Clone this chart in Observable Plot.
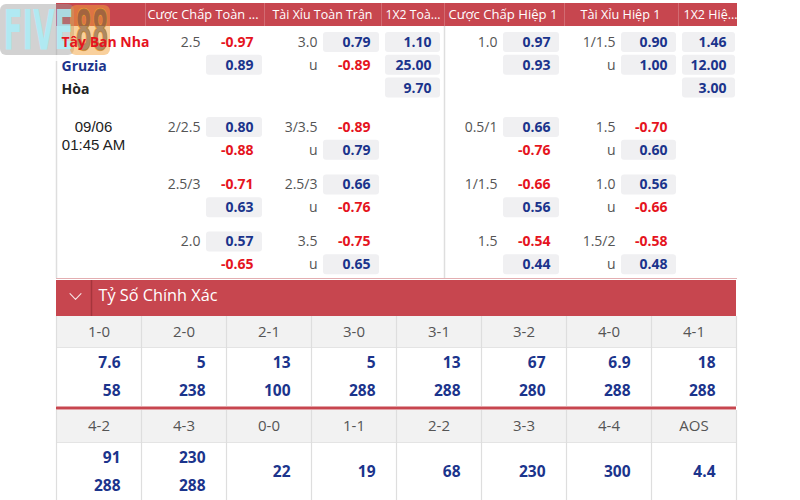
<!DOCTYPE html>
<html><head><meta charset="utf-8">
<script src="https://cdn.jsdelivr.net/npm/d3@7"></script>
<script src="https://cdn.jsdelivr.net/npm/@observablehq/plot@0.6"></script>
<style>body{margin:0;background:#fff;overflow:hidden}</style>
</head><body><div id="chart"></div>
<script>
// ---------- DATA ----------
const logoWord = "FIVE", logoNum = "88";
const headers = ["Cược Chấp Toàn ...", "Tài Xỉu Toàn Trận", "1X2 Toà...", "Cược Chấp Hiệp 1", "Tài Xỉu Hiệp 1", "1X2 Hiệ..."];
const teams = ["Tây Ban Nha", "Gruzia", "Hòa"];
const kickoff = ["09/06", "01:45 AM"];
const underLabel = "u";
const ftHdpLine = ["2.5", "2/2.5", "2.5/3", "2.0"];
const ftHdpHome = [-0.97, 0.80, -0.71, 0.57];
const ftHdpAway = [0.89, -0.88, 0.63, -0.65];
const ftOuLine = ["3.0", "3/3.5", "2.5/3", "3.5"];
const ftOver = [0.79, -0.89, 0.66, -0.75];
const ftUnder = [-0.89, 0.79, -0.76, 0.65];
const ft1x2 = [1.10, 25.00, 9.70];
const htHdpLine = ["1.0", "0.5/1", "1/1.5", "1.5"];
const htHdpHome = [0.97, 0.66, -0.66, -0.54];
const htHdpAway = [0.93, -0.76, 0.56, 0.44];
const htOuLine = ["1/1.5", "1.5", "1.0", "1.5/2"];
const htOver = [0.90, -0.70, 0.56, -0.58];
const htUnder = [1.00, 0.60, -0.66, 0.48];
const ht1x2 = [1.46, 12.00, 3.00];
const sectionTitle = "Tỷ Số Chính Xác";
const scoreLabels = ["1-0","2-0","2-1","3-0","3-1","3-2","4-0","4-1","4-2","4-3","0-0","1-1","2-2","3-3","4-4","AOS"];
const scoreOddsTop = [7.6, 5, 13, 5, 13, 67, 6.9, 18, 91, 230, 22, 19, 68, 230, 300, 4.4];
const scoreOddsBottom = [58, 238, 100, 288, 288, 280, 288, 288, 288, 288, null, null, null, null, null, null];

// ---------- LAYOUT & STYLE ----------
const C = {red: "#c7464f", redDark: "#a5353c", navy: "#1b348c", neg: "#e5141e", grey: "#555", line: "#dedede", boxBg: "#f0f0f2", headBg: "#f2f2f2"};
const FONT = "Open Sans";
const L = {
  x1: 56, x2: 737,
  headY: [3, 26], headSeps: [145, 264, 381, 444, 564, 678],
  headTextX: [147, 272, 385, 448, 580, 683], headTextW: [111, 100, 55, 109, 80, 54],
  bodyBottom: 278,
  blockY: [42, 127, 184.5, 241.5], rowStep: 22.8, boxH: 20,
  groups: [
    {lineRight: 200, box: [206, 262]},
    {lineRight: 317, box: [323, 379]},
    {box: [385, 440]},
    {lineRight: 497, box: [503, 559]},
    {lineRight: 615, box: [621, 676]},
    {box: [682, 735]}
  ],
  teamX: 61, teamY: [42, 66, 89],
  dateX: 93, dateY: [127, 145],
  sec: {y1: 280, y2: 316, chevX: 75, chevW: 5.5, chevH: 2.8, sepX: 91, titleX: 98, titleW: 119},
  grid: {x0: 56, w: 85, n: 8, rows: [{h1: 316, h2: 347, v1: 363, v2: 391, end: 406}, {h1: 410, h2: 442, v1: 458, v2: 486, end: 500}], redLine: 408, valOffset: 64}
};

// ---------- BUILD TABLES ----------
const fmt = v => v.toFixed(2);
const odds = [], lineLabels = [];
function addOdds(g, y, v) {
  const b = L.groups[g].box;
  odds.push({x1: b[0], x2: b[1], xt: b[1] - 9, y, text: fmt(v), pos: v > 0});
}
L.blockY.forEach((y0, b) => {
  const y1 = y0 + L.rowStep;
  const sets = [[0, ftHdpLine, ftHdpHome, ftHdpAway, false], [1, ftOuLine, ftOver, ftUnder, true],
                [3, htHdpLine, htHdpHome, htHdpAway, false], [4, htOuLine, htOver, htUnder, true]];
  for (const [g, lines, a, c, isOu] of sets) {
    lineLabels.push({x: L.groups[g].lineRight, y: y0, text: lines[b]});
    if (isOu) lineLabels.push({x: L.groups[g].lineRight, y: y1, text: underLabel});
    addOdds(g, y0, a[b]);
    addOdds(g, y1, c[b]);
  }
});
ft1x2.forEach((v, i) => addOdds(2, L.blockY[0] + i * L.rowStep, v));
ht1x2.forEach((v, i) => addOdds(5, L.blockY[0] + i * L.rowStep, v));

const headerCells = headers.map((t, i) => ({text: t, x: L.headTextX[i], w: L.headTextW[i]}));

const scoreCells = scoreLabels.map((s, i) => {
  const r = L.grid.rows[Math.floor(i / L.grid.n)], c = i % L.grid.n;
  const x1 = L.grid.x0 + c * L.grid.w;
  return {label: s, x1, x2: x1 + L.grid.w, xc: x1 + L.grid.w / 2, xv: x1 + L.grid.valOffset, r,
          top: scoreOddsTop[i], bottom: scoreOddsBottom[i]};
});
const scoreValues = [];
scoreCells.forEach(d => {
  if (d.bottom == null) scoreValues.push({x: d.xv, y: (d.r.v1 + d.r.v2) / 2, text: String(d.top)});
  else {
    scoreValues.push({x: d.xv, y: d.r.v1, text: String(d.top)});
    scoreValues.push({x: d.xv, y: d.r.v2, text: String(d.bottom)});
  }
});
const gridSeps = [];
L.grid.rows.forEach(r => { for (let c = 0; c <= L.grid.n; c++) gridSeps.push({x: L.grid.x0 + c * L.grid.w, y1: r.h1, y2: r.end}); });
const secMid = (L.sec.y1 + L.sec.y2) / 2;
const chevron = [-1, 0, 1].map(k => ({x: L.sec.chevX + k * L.sec.chevW, y: secMid - 2 + (k === 0 ? L.sec.chevH : -L.sec.chevH)}));

// ---------- PLOT ----------
const plot = Plot.plot({
  width: 800, height: 500, margin: 0,
  x: {type: "identity"}, y: {type: "identity"},
  style: {fontFamily: FONT, background: "#fff"},
  marks: [
    // top header band
    Plot.rect([0], {x1: L.x1, x2: L.x2, y1: L.headY[0], y2: L.headY[1], fill: C.red}),
    Plot.ruleX(L.headSeps, {x: d => d, y1: L.headY[0], y2: L.headY[1], stroke: "#fff", strokeOpacity: 0.2}),
    Plot.text(headerCells, {x: "x", y: (L.headY[0] + L.headY[1]) / 2, text: "text", textAnchor: "start", fill: "#fff", fontSize: 13}),
    // body borders
    Plot.ruleX([L.x1, L.headSeps[3]], {x: d => d, y1: L.headY[1], y2: L.bodyBottom, stroke: C.line, strokeWidth: 1.5}),
    Plot.ruleY([L.bodyBottom], {y: d => d, x1: L.x1, x2: L.x2, stroke: "#e3aeb1"}),
    // date
    Plot.text(kickoff, {x: L.dateX, y: (d, i) => L.dateY[i], text: d => d, fontFamily: "Liberation Sans", fontSize: 15, fill: "#222"}),
    // odds
    Plot.rect(odds.filter(d => d.pos), {x1: "x1", x2: "x2", y1: d => d.y - L.boxH / 2, y2: d => d.y + L.boxH / 2, fill: C.boxBg, rx: 3}),
    Plot.text(odds, {x: "xt", y: "y", text: "text", textAnchor: "end", fontWeight: "bold", fontSize: 14, fill: d => d.pos ? C.navy : C.neg}),
    Plot.text(lineLabels, {x: "x", y: "y", text: "text", textAnchor: "end", fontSize: 14, fill: C.grey}),
    // section header
    Plot.rect([0], {x1: L.x1, x2: L.grid.x0 + L.grid.n * L.grid.w, y1: L.sec.y1, y2: L.sec.y2, fill: C.red}),
    Plot.ruleX([L.sec.sepX], {x: d => d, y1: L.sec.y1, y2: L.sec.y2, stroke: C.redDark, strokeWidth: 1.5}),
    Plot.line(chevron, {x: "x", y: "y", stroke: "#fff", strokeOpacity: 0.85, strokeWidth: 1.1}),
    Plot.text([sectionTitle], {x: L.sec.titleX, y: secMid - 3, text: d => d, textAnchor: "start", fill: "#fff", fontSize: 17}),
    // score grid
    Plot.rect(L.grid.rows, {x1: L.grid.x0, x2: L.grid.x0 + L.grid.n * L.grid.w, y1: "h1", y2: "h2", fill: C.headBg}),
    Plot.ruleY(L.grid.rows, {y: "h2", x1: L.grid.x0, x2: L.grid.x0 + L.grid.n * L.grid.w, stroke: "#e4e4e4"}),
    Plot.ruleX(gridSeps, {x: "x", y1: "y1", y2: "y2", stroke: C.line, strokeWidth: 1.2}),
    Plot.rect([0], {x1: L.grid.x0, x2: L.grid.x0 + L.grid.n * L.grid.w, y1: L.grid.redLine - 1.5, y2: L.grid.redLine + 1.5, fill: C.red}),
    Plot.text(scoreCells, {x: "xc", y: d => (d.r.h1 + d.r.h2) / 2, text: "label", fontSize: 15, fill: C.grey}),
    Plot.text(scoreValues, {x: "x", y: "y", text: "text", textAnchor: "end", fontWeight: "bold", fontSize: 15.5, fill: C.navy}),
    // logo watermark (semi-transparent)
    Plot.rect([0], {x1: 0, x2: 74, y1: 4, y2: 55, fill: "#9b9b9b", fillOpacity: 0.45, rx: 6}),
    Plot.rect([0], {x1: 70, x2: 110, y1: 5, y2: 55, fill: "#f3a23a", fillOpacity: 0.5, rx: 6}),
    Plot.rect([0], {x1: 22, x2: 112, y1: 55, y2: 61, fill: "#fff", fillOpacity: 0.85}),
    Plot.text([logoWord], {x: 3, y: 31, text: d => d, textAnchor: "start", fontSize: 56, fontWeight: "bold", fontFamily: "DejaVu Sans Condensed", fill: "#aaeef8", fillOpacity: 0.85}),
    Plot.text([logoNum], {x: 75, y: 31, text: d => d, textAnchor: "start", fontSize: 56, fontWeight: "bold", fontFamily: "DejaVu Sans Condensed", fill: "#7a5a3e", fillOpacity: 0.6, stroke: "#f0a030", strokeWidth: 1.5, strokeOpacity: 0.8}),
    // team names drawn over the faded logo
    Plot.text(teams, {x: L.teamX, y: (d, i) => L.teamY[i], text: d => d, textAnchor: "start", fontWeight: "bold", fontSize: 14,
      fill: (d, i) => [C.neg, C.navy, "#222"][i]})
  ]
});
const svg = d3.select(plot);
svg.selectAll("text").filter(function(){ return this.textContent === logoWord; }).attr("textLength", 70).attr("lengthAdjust", "spacingAndGlyphs");
svg.selectAll("text").filter(function(){ return this.textContent === logoNum; }).attr("textLength", 33).attr("lengthAdjust", "spacingAndGlyphs");
svg.selectAll("text").filter(function(){ return headers.includes(this.textContent); })
  .each(function(){ const i = headers.indexOf(this.textContent); d3.select(this).attr("textLength", L.headTextW[i]).attr("lengthAdjust", "spacingAndGlyphs"); });
svg.selectAll("text").filter(function(){ return this.textContent === sectionTitle; }).attr("textLength", L.sec.titleW).attr("lengthAdjust", "spacingAndGlyphs");
document.getElementById("chart").appendChild(plot);
</script></body></html>
